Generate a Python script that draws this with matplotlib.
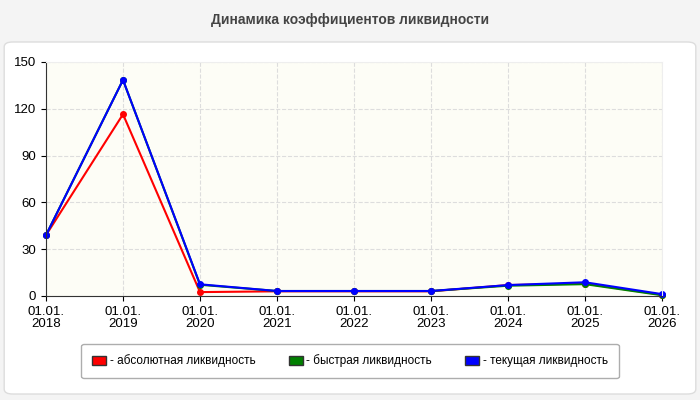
import matplotlib

matplotlib.use("Agg")

import matplotlib.pyplot as plt
from matplotlib.patches import FancyBboxPatch

plt.rcParams["font.family"] = ["Liberation Sans", "DejaVu Sans"]

labels = ["01.01.\n2018", "01.01.\n2019", "01.01.\n2020", "01.01.\n2021", "01.01.\n2022",
          "01.01.\n2023", "01.01.\n2024", "01.01.\n2025", "01.01.\n2026"]
absolute = [39, 116.5, 2.5, 3, 3, 3, 7, 8, 0.8]
quick = [39, 138.5, 7.2, 3.2, 3.2, 3.2, 6.6, 7.6, 0.5]
current = [39, 138.5, 7.5, 3.2, 3.2, 3.2, 7.0, 8.8, 1.2]

fig = plt.figure(figsize=(7, 4), dpi=100, facecolor="#f4f4f4")
fig.text(0.5, 0.95, "Динамика коэффициентов ликвидности", ha="center", va="center",
         fontsize=10, fontweight="bold", color="#444444")
panel = FancyBboxPatch((0.006, 0.015), 0.988, 0.88, boxstyle="round,pad=0,rounding_size=0.012",
                       transform=fig.transFigure, facecolor="white", edgecolor="#dddddd", lw=1,
                       zorder=-10)
fig.patches.append(panel)

ax = fig.add_axes([46 / 700, 1 - 296 / 400, (662 - 46) / 700, (296 - 62) / 400])
ax.set_facecolor("#fdfdf6")
x = range(len(labels))
for vals, c in [(absolute, "red"), (quick, "green"), (current, "blue")]:
    ax.plot(x, vals, color=c, lw=1.5, marker="o", ms=4, clip_on=False)
ax.set_xlim(0, len(labels) - 1)
ax.set_ylim(0, 150)
ax.set_yticks(range(0, 151, 30))
ax.set_xticks(list(x))
ax.set_xticklabels(labels, fontsize=9.5, linespacing=1.0)
ax.tick_params(axis="y", labelsize=9.5)
ax.grid(color="#dddddd", ls="--", lw=0.8)
for s in ["top", "right"]:
    ax.spines[s].set_color("#eeeeee")
for s in ["left", "bottom"]:
    ax.spines[s].set_color("#333333")

handles = [plt.Rectangle((0, 0), 1, 1, facecolor=c, edgecolor="#333333") for c in ["red", "green", "blue"]]
fig.legend(handles, ["- абсолютная ликвидность", "- быстрая ликвидность", "- текущая ликвидность"],
           loc="center", bbox_to_anchor=(0.5, 1 - 361 / 400), ncol=3, fontsize=8.5,
           frameon=True, edgecolor="#999999", fancybox=True, handlelength=1.2, handleheight=0.8,
           handletextpad=0.3, columnspacing=2.8, borderpad=0.9)
fig.savefig("out.png", dpi=100, facecolor=fig.get_facecolor())
